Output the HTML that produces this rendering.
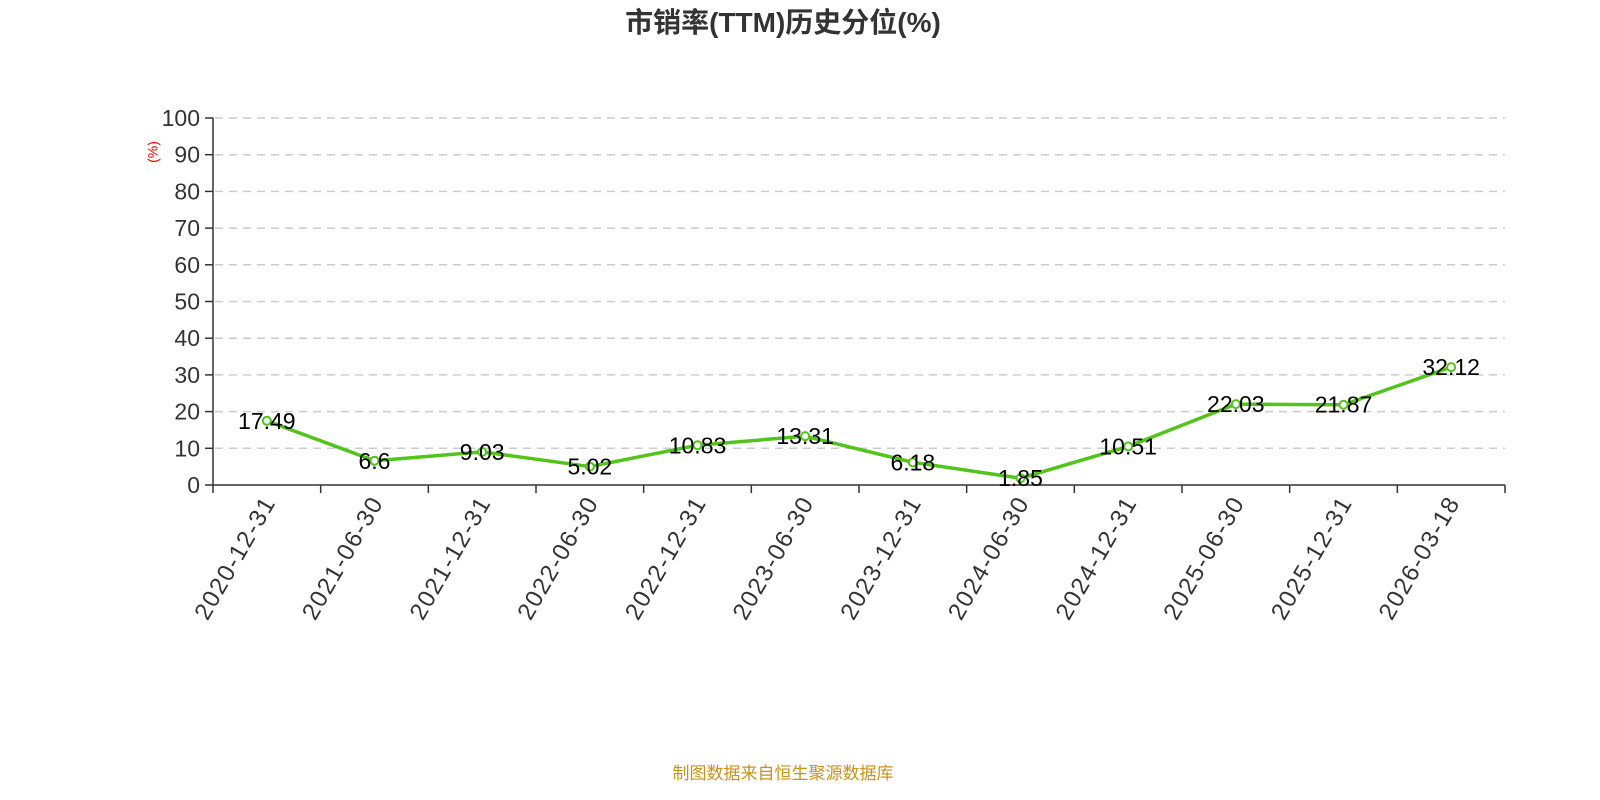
<!DOCTYPE html>
<html><head><meta charset="utf-8"><style>
html,body{margin:0;padding:0;background:#fff;}
svg{display:block;font-family:"Liberation Sans","Noto Sans CJK SC",sans-serif;}
</style></head><body>
<svg width="1600" height="800" xmlns="http://www.w3.org/2000/svg">
<text x="783" y="32" text-anchor="middle" font-size="28" font-weight="bold" fill="#333">市销率(TTM)历史分位(%)</text>
<g id="grid" stroke="#ccc" stroke-width="1.5" stroke-dasharray="8,6"></g>
<g id="axes"></g>
<text transform="translate(154,152) rotate(-90)" text-anchor="middle" font-size="14" fill="#e00" dominant-baseline="middle">(%)</text>
<g id="series"></g>
<text x="783" y="779" text-anchor="middle" font-size="17" fill="#c8931a">制图数据来自恒生聚源数据库</text>
<script>
var ns="http://www.w3.org/2000/svg";
function el(p,t,a,txt){var e=document.createElementNS(ns,t);for(var k in a)e.setAttribute(k,a[k]);if(txt!=null)e.textContent=txt;p.appendChild(e);return e;}
var x0=213,x1=1505,y0=485,y100=118;
function Y(v){return y0-(y0-y100)*v/100;}
var g=document.getElementById('grid'),ax=document.getElementById('axes'),s=document.getElementById('series');
for(var i=0;i<=10;i++){var y=Y(i*10);
 if(i>0)el(g,'line',{x1:x0+2,x2:x1,y1:y,y2:y});
 el(ax,'line',{x1:x0-8,x2:x0,y1:y,y2:y,stroke:'#333','stroke-width':1.5});
 el(ax,'text',{x:x0-13,y:y+8,'text-anchor':'end','font-size':23,fill:'#333'},String(i*10));}
el(ax,'line',{x1:x0,x2:x0,y1:y100,y2:y0,stroke:'#333','stroke-width':1.5});
el(ax,'line',{x1:x0,x2:x1,y1:y0,y2:y0,stroke:'#333','stroke-width':1.5});
var labs=['2020-12-31','2021-06-30','2021-12-31','2022-06-30','2022-12-31','2023-06-30','2023-12-31','2024-06-30','2024-12-31','2025-06-30','2025-12-31','2026-03-18'];
var vals=[17.49,6.6,9.03,5.02,10.83,13.31,6.18,1.85,10.51,22.03,21.87,32.12];
var bw=(x1-x0)/12,pts=[];
for(var i=0;i<=12;i++)el(ax,'line',{x1:x0+i*bw,x2:x0+i*bw,y1:y0,y2:y0+8,stroke:'#333','stroke-width':1.5});
for(var i=0;i<12;i++){var cx=x0+bw*(i+0.5);pts.push(cx+','+Y(vals[i]));
 el(ax,'text',{transform:'translate('+(cx+4)+','+(y0+14)+') rotate(-60)','text-anchor':'end','font-size':24,'letter-spacing':'1.5',fill:'#333','dominant-baseline':'middle'},labs[i]);}
el(s,'polyline',{points:pts.join(' '),fill:'none',stroke:'#52c41a','stroke-width':3.5,'stroke-linejoin':'round'});
for(var i=0;i<12;i++){var cx=x0+bw*(i+0.5),y=Y(vals[i]);
 el(s,'circle',{cx:cx,cy:y,r:4,fill:'#fff',stroke:'#52c41a','stroke-width':2});
 el(s,'text',{x:cx,y:y+8,'text-anchor':'middle','font-size':23,fill:'#000'},String(vals[i]));}
</script>
</svg>
</body></html>
